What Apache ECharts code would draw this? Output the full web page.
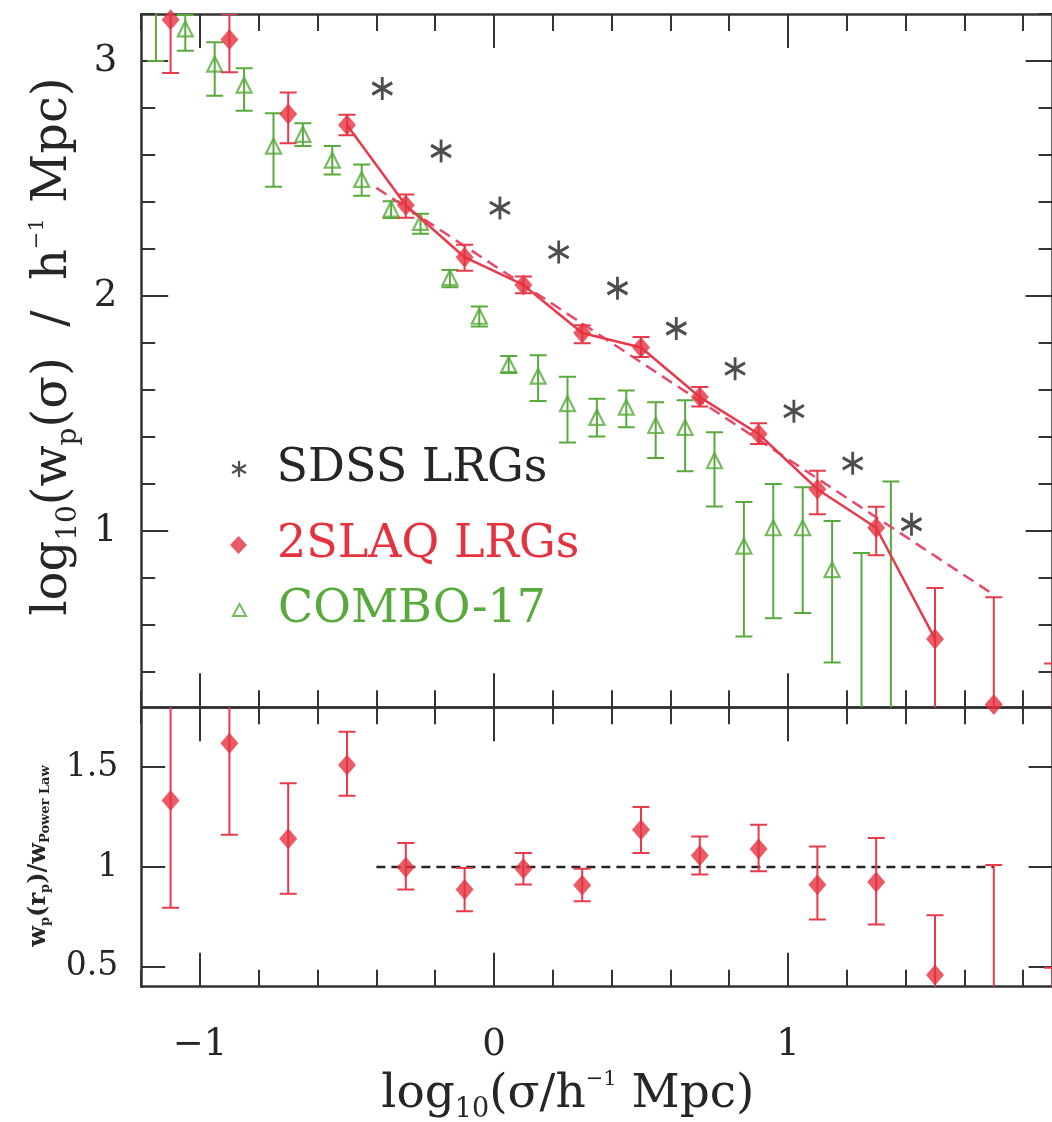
<!DOCTYPE html>
<html>
<head>
<meta charset="utf-8">
<script src="https://cdn.jsdelivr.net/npm/echarts@6/dist/echarts.min.js"></script>
<style>html,body{margin:0;padding:0;background:#fff}#c{width:1052px;height:1122px}</style>
</head>
<body>
<div id="c"></div>
<script>
// ---------- data ----------
// 2SLAQ LRGs: log10 wp (top panel) and ratio to power law (bottom panel)
const slaqX  = [-1.1,-0.9,-0.7,-0.5,-0.3,-0.1,0.1,0.3,0.5,0.7,0.9,1.1,1.3,1.5,1.7,1.9];
const slaqY  = [3.176,3.091,2.774,2.728,2.386,2.165,2.047,1.843,1.781,1.570,1.413,1.178,1.014,0.541,0.262,0.0];
const slaqHi = [3.35,3.200,2.866,2.771,2.432,2.218,2.083,1.876,1.826,1.613,1.459,1.256,1.103,0.758,0.718,0.436];
const slaqLo = [2.949,2.952,2.650,2.684,2.333,2.108,2.012,1.799,1.741,1.530,1.370,1.071,0.897,-0.5,-1.0,-1.0];
const ratioY  = [1.333,1.620,1.141,1.511,0.998,0.887,0.991,0.908,1.187,1.058,1.090,0.911,0.925,0.458,0.34,0.20];
const ratioHi = [1.87,2.08,1.42,1.678,1.12,0.995,1.07,0.991,1.30,1.153,1.212,1.103,1.145,0.758,1.01,0.495];
const ratioLo = [0.795,1.161,0.866,1.357,0.887,0.778,0.912,0.828,1.07,0.962,0.978,0.737,0.712,0.158,0.0,0.0];
// COMBO-17
const combX  = [-1.15,-1.05,-0.95,-0.85,-0.75,-0.65,-0.55,-0.45,-0.35,-0.25,-0.15,-0.05,0.05,0.15,0.25,0.35,0.45,0.55,0.65,0.75,0.85,0.95,1.05,1.15,1.25,1.35];
const combY  = [3.35,3.137,2.987,2.897,2.638,2.688,2.578,2.496,2.370,2.313,2.078,1.914,1.708,1.659,1.542,1.484,1.527,1.449,1.441,1.299,0.936,1.014,1.014,0.836,0.10,0.15];
const combHi = [3.70,3.196,3.080,2.969,2.778,2.735,2.638,2.560,2.403,2.350,2.111,1.955,1.745,1.748,1.656,1.563,1.598,1.548,1.556,1.420,1.124,1.200,1.186,1.043,0.907,1.211];
const combLo = [3.00,3.044,2.852,2.788,2.465,2.638,2.517,2.427,2.332,2.265,2.037,1.870,1.672,1.553,1.377,1.402,1.442,1.311,1.254,1.104,0.551,0.629,0.651,0.441,-0.5,-0.5];
// SDSS LRGs
const sdssX = [-0.38,-0.18,0.02,0.22,0.42,0.62,0.82,1.02,1.22,1.42];
const sdssY = [2.883,2.617,2.375,2.187,2.033,1.862,1.691,1.510,1.288,1.029];
// power-law fit and unity line
const fitX = [-0.4, 1.7];
const fitY = [2.46, 0.729];
const unityX = [-0.4, 1.7];
const unityY = [1, 1];
// connected 2SLAQ segment (indices)
const lineFrom = 3, lineTo = 13;
// ticks
const xMajor = [-1, 0, 1];
const xMinor = [-1.2,-0.8,-0.6,-0.4,-0.2,0.2,0.4,0.6,0.8,1.2,1.4,1.6,1.8];
const wpMajor = [1, 2, 3];
const wpMinor = [0.4,0.6,0.8,1.2,1.4,1.6,1.8,2.2,2.4,2.6,2.8,3.2];
const ratioTicks = [0.5, 1, 1.5];
const xRange = [-1.2, 1.9], wpRange = [0.25, 3.2], ratioRange = [0.4, 1.8];

// ---------- style ----------
const FONT = 'DejaVu Serif';
const RED = '#e5323f', RED_LINE = '#e73a4a', RED_DASH = '#e8486a', GREEN = '#58aa3c', INK = '#262626', FRAME = '#333';
const ASTER = 'path://M0,-10L0,10M-8.66,-5L8.66,5M-8.66,5L8.66,-5';

function xAx(grid, pos, ticks, len, line, label, extra) {
  return Object.assign({
    type: 'value', gridIndex: grid, position: pos, min: xRange[0], max: xRange[1],
    axisLine: {show: line, onZero: false, lineStyle: {color: FRAME, width: 2.5}},
    axisTick: {show: true, inside: true, length: len, customValues: ticks, lineStyle: {color: FRAME, width: 2}},
    axisLabel: {show: label, customValues: ticks, margin: 40, fontSize: 37, fontFamily: FONT, color: INK,
      formatter: v => (v < 0 ? '\u2212' + Math.abs(v) : String(v))},
    splitLine: {show: false}
  }, extra || {});
}
function yAx(grid, pos, range, ticks, len, line, label, extra) {
  return Object.assign({
    type: 'value', gridIndex: grid, position: pos, min: range[0], max: range[1],
    axisLine: {show: line, onZero: false, lineStyle: {color: FRAME, width: 2.5}},
    axisTick: {show: true, inside: true, length: len, customValues: ticks, lineStyle: {color: FRAME, width: 2}},
    axisLabel: {show: label, customValues: ticks, margin: 24, fontSize: 37, fontFamily: FONT, color: INK},
    splitLine: {show: false}
  }, extra || {});
}
function errSeries(xs, lo, hi, color, width, cap, xi, yi) {
  return {
    type: 'custom', xAxisIndex: xi, yAxisIndex: yi, clip: true, silent: true, z: 2,
    data: xs.map((x, i) => [x, lo[i], hi[i]]),
    encode: {x: 0, y: [1, 2]},
    renderItem: (params, api) => {
      const x = api.value(0), l = api.value(1), h = api.value(2);
      const a = api.coord([x, h]), b = api.coord([x, l]);
      const st = {stroke: color, lineWidth: width};
      return {type: 'group', children: [
        {type: 'line', shape: {x1: a[0], y1: a[1], x2: b[0], y2: b[1]}, style: st},
        {type: 'line', shape: {x1: a[0] - cap, y1: a[1], x2: a[0] + cap, y2: a[1]}, style: st},
        {type: 'line', shape: {x1: b[0] - cap, y1: b[1], x2: b[0] + cap, y2: b[1]}, style: st}
      ]};
    }
  };
}
const zip = (a, b) => a.map((v, i) => [v, b[i]]);

const chart = echarts.init(document.getElementById('c'), null, {renderer: 'canvas'});
const legendText = {fontSize: 46, fontFamily: FONT};
chart.setOption({
  animation: false,
  backgroundColor: '#fff',
  grid: [
    {left: 141.2, top: 14, width: 911.4, height: 693.3, outerBoundsMode: 'none'},
    {left: 141.2, top: 707.3, width: 911.4, height: 279.4, outerBoundsMode: 'none'}
  ],
  legend: [
    {data: [{name: 'SDSS LRGs', icon: ASTER, itemStyle: {color: 'rgba(0,0,0,0)', borderColor: INK, borderWidth: 2.2}, textStyle: {color: INK}}],
     left: 231, top: 446, padding: 0, itemWidth: 15, itemHeight: 16, selectedMode: false,
     textStyle: Object.assign({padding: [0, 0, 15, 25]}, legendText)},
    {data: [{name: '2SLAQ LRGs', icon: 'diamond', itemStyle: {color: RED, borderWidth: 0}, textStyle: {color: RED}}],
     left: 230, top: 522, padding: 0, itemWidth: 17, itemHeight: 18, selectedMode: false,
     textStyle: Object.assign({padding: [0, 0, 0, 25]}, legendText)},
    {data: [{name: 'COMBO-17', icon: 'triangle', itemStyle: {color: 'rgba(0,0,0,0)', borderColor: GREEN, borderWidth: 2}, textStyle: {color: GREEN}}],
     left: 232, top: 587, padding: 0, itemWidth: 13, itemHeight: 12, selectedMode: false,
     textStyle: Object.assign({padding: [0, 0, 6, 27]}, legendText)}
  ],
  xAxis: [
    xAx(0, 'bottom', xMajor, 34, true, false),
    xAx(0, 'bottom', xMinor, 17, false, false),
    xAx(0, 'top', xMajor, 34, true, false),
    xAx(0, 'top', xMinor, 17, false, false),
    xAx(1, 'bottom', xMajor, 34, true, true, {
      name: '{m|log}{s|10}{m|(σ/h}{p|\u22121}{m| Mpc)}', nameLocation: 'middle', nameGap: 80,
      nameTextStyle: {fontFamily: FONT, color: INK, padding: [0, 58, 0, 0], rich: {
        m: {fontSize: 47, fontFamily: FONT, color: INK},
        s: {fontSize: 27, fontFamily: FONT, color: INK, padding: [30, 0, 0, 0]},
        p: {fontSize: 21, fontFamily: FONT, color: INK, padding: [0, 0, 32, 0]}}}
    }),
    xAx(1, 'bottom', xMinor, 17, false, false),
    xAx(1, 'top', xMajor, 34, true, false),
    xAx(1, 'top', xMinor, 17, false, false)
  ],
  yAxis: [
    yAx(0, 'left', wpRange, wpMajor, 27, true, true, {
      name: '{m|log}{s|10}{m|(w}{s|p}{m|(σ)  /  h}{p|\u22121}{m| Mpc)}', nameLocation: 'middle', nameGap: 51, nameRotate: 90,
      nameTextStyle: {fontFamily: FONT, color: INK, padding: [0, 0, 0, 28], rich: {
        m: {fontSize: 48, fontFamily: FONT, color: INK},
        s: {fontSize: 28, fontFamily: FONT, color: INK, padding: [30, 0, 0, 0]},
        p: {fontSize: 21, fontFamily: FONT, color: INK, padding: [0, 0, 32, 0]}}}
    }),
    yAx(0, 'left', wpRange, wpMinor, 14, false, false),
    yAx(0, 'right', wpRange, wpMajor, 27, true, false),
    yAx(0, 'right', wpRange, wpMinor, 14, false, false),
    yAx(1, 'left', ratioRange, ratioTicks, 24, true, true, {
      axisLabel: {show: true, customValues: ratioTicks, margin: 23, fontSize: 33, fontFamily: FONT, color: INK},
      name: '{m|w}{s|p}{m|(r}{s|p}{m|)/w}{s|Power Law}', nameLocation: 'middle', nameGap: 89, nameRotate: 90,
      nameTextStyle: {fontFamily: FONT, color: INK, padding: [0, 18, 0, 0], rich: {
        m: {fontSize: 24, fontFamily: FONT, color: INK, fontWeight: 'bold'},
        s: {fontSize: 13, fontFamily: FONT, color: INK, fontWeight: 'bold', padding: [14, 0, 0, 0]}}}
    }),
    yAx(1, 'right', ratioRange, ratioTicks, 24, true, false)
  ],
  series: [
    // top panel
    errSeries(combX, combLo, combHi, GREEN, 2, 8.5, 0, 0),
    {type: 'scatter', name: 'COMBO-17', xAxisIndex: 0, yAxisIndex: 0, clip: true, z: 3,
     symbol: 'triangle', symbolSize: [15, 15], data: zip(combX, combY),
     itemStyle: {color: 'rgba(0,0,0,0)', borderColor: GREEN, borderWidth: 2.2}},
    {type: 'line', name: 'fit', xAxisIndex: 0, yAxisIndex: 0, clip: true, z: 4, symbol: 'none',
     data: zip(fitX, fitY), lineStyle: {color: RED_DASH, width: 2.5, type: [12, 7]}},
    {type: 'line', name: 'joined', xAxisIndex: 0, yAxisIndex: 0, clip: true, z: 4, symbol: 'none',
     data: zip(slaqX.slice(lineFrom, lineTo + 1), slaqY.slice(lineFrom, lineTo + 1)),
     lineStyle: {color: RED_LINE, width: 2.5}},
    Object.assign(errSeries(slaqX, slaqLo, slaqHi, RED_LINE, 2, 8.5, 0, 0), {z: 5}),
    {type: 'scatter', name: '2SLAQ LRGs', xAxisIndex: 0, yAxisIndex: 0, clip: true, z: 6,
     symbol: 'diamond', symbolSize: [18, 21], data: zip(slaqX, slaqY), itemStyle: {color: RED}},
    {type: 'scatter', name: 'SDSS LRGs', xAxisIndex: 0, yAxisIndex: 0, clip: true, z: 6,
     symbol: ASTER, symbolSize: [20, 23], data: zip(sdssX, sdssY),
     itemStyle: {color: 'rgba(0,0,0,0)', borderColor: '#222', borderWidth: 3}},
    // bottom panel
    {type: 'line', name: 'unity', xAxisIndex: 4, yAxisIndex: 4, clip: true, z: 3, symbol: 'none',
     data: zip(unityX, unityY), lineStyle: {color: INK, width: 2.6, type: [9, 6]}},
    Object.assign(errSeries(slaqX, ratioLo, ratioHi, RED_LINE, 2, 8.5, 4, 4), {z: 5}),
    {type: 'scatter', name: 'ratio', xAxisIndex: 4, yAxisIndex: 4, clip: true, z: 6,
     symbol: 'diamond', symbolSize: [18, 21], data: zip(slaqX, ratioY), itemStyle: {color: RED}}
  ]
});
</script>
</body>
</html>
